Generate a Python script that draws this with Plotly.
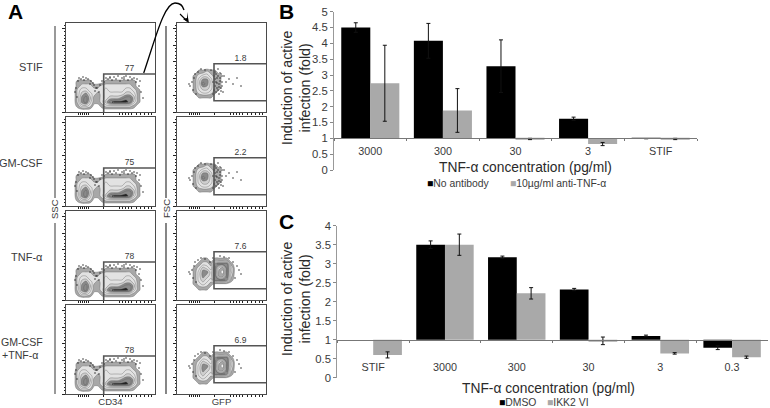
import plotly.graph_objects as go

W, H = 770, 408
FONT = "Liberation Sans"
BAR_DARK = "#000000"
BAR_LIGHT = "#a9a9a9"
TXT = "#3a3a3a"

# ---------- Panel B data ----------
b_cats = ["3000", "300", "30", "3", "STIF"]
b_no_ab = [4.5, 4.08, 3.28, 1.62, 0.99]
b_no_ab_err = [0.15, 0.55, 0.83, 0.05, 0.0]
b_anti = [2.74, 1.88, 0.98, 0.82, 0.98]
b_anti_err = [1.2, 0.69, 0.02, 0.05, 0.02]

# ---------- Panel C data ----------
c_cats = ["STIF", "3000", "300", "30", "3", "0.3"]
c_dmso = [None, 3.5, 3.17, 2.32, 1.1, 0.79]
c_dmso_err = [None, 0.1, 0.03, 0.03, 0.02, 0.05]
c_ikk = [0.6, 3.5, 2.22, 0.97, 0.64, 0.54]
c_ikk_err = [0.08, 0.28, 0.15, 0.1, 0.02, 0.03]

# ---------- Panel A data ----------
row_names = ["STIF", "GM-CSF", "TNF-α", "GM-CSF +TNF-α"]
left_pct = ["77", "75", "78", "78"]
right_pct = ["1.8", "2.2", "7.6", "6.9"]
row_tops = [23, 117, 211, 305]

left_x = [8, 12, 16, 20, 24, 28, 32, 36, 40, 44, 48, 52, 56, 60, 64, 68, 72, 76]
left_y = [2, 6, 10, 14, 18, 22, 26, 30, 34]
left_z = [
    [0, 0, 0, 0, 0, 0, 0, 0, 0, 0, 0, 0, 0, 0, 0, 0, 0, 0],
    [0, 1, 3, 3, 2, 0, 0, 1, 2, 2, 2, 2, 2, 2, 2, 1, 0, 0],
    [0, 2, 5, 6, 3, 1, 1, 2, 4, 6, 7, 7, 7, 7, 6, 3, 1, 0],
    [0, 2, 5, 6, 4, 1, 1, 2, 3, 4, 4, 4, 5, 6, 6, 4, 1, 0],
    [0, 2, 4, 5, 3, 2, 1, 2, 3, 3, 3, 3, 3, 4, 4, 3, 1, 0],
    [0, 2, 3, 3, 2, 2, 2, 2, 3, 2, 2, 2, 2, 3, 3, 2, 1, 0],
    [0, 1, 2, 2, 2, 1, 1, 2, 2, 2, 2, 2, 2, 2, 2, 1, 0, 0],
    [0, 1, 1, 1, 1, 0, 0, 0, 1, 1, 1, 1, 1, 1, 1, 1, 0, 0],
    [0, 0, 0, 0, 0, 0, 0, 0, 0, 0, 0, 0, 0, 0, 0, 0, 0, 0],
]
left_dots_x = [12, 15, 18, 22, 25, 28, 31, 34, 38, 42, 46, 50, 54, 58, 62, 66, 70, 73, 75, 10, 11, 29, 33, 40, 48, 56, 64, 71, 77, 24,
               13, 17, 20, 27, 36, 44, 52, 60, 68, 74, 9, 30, 44, 58]
left_dots_y = [31, 33, 32, 33, 31, 27, 24, 27, 30, 33, 32, 33, 31, 33, 32, 33, 30, 26, 20, 24, 15, 21, 20, 34, 35, 34, 35, 33, 14, 28,
               34, 35, 34, 29, 31, 35, 36, 36, 34, 31, 20, 24, 34, 35]

right_ax = [14, 18, 22, 26, 30, 34, 38, 42, 46, 50]
right_ay = [12, 16, 20, 24, 28, 32, 36, 40, 44]
right_az = [
    [0, 0, 0, 0, 0, 0, 0, 0, 0, 0],
    [0, 0, 1, 1, 1, 1, 0, 0, 0, 0],
    [0, 1, 2, 3, 3, 2, 1, 0, 0, 0],
    [0, 1, 3, 4, 4, 3, 1, 1, 0, 0],
    [0, 1, 3, 6, 5, 3, 1, 1, 0, 0],
    [0, 1, 3, 5, 5, 3, 1, 1, 0, 0],
    [0, 1, 2, 3, 3, 2, 1, 1, 0, 0],
    [0, 0, 1, 1, 2, 1, 1, 0, 0, 0],
    [0, 0, 0, 0, 0, 0, 0, 0, 0, 0],
]
right_bx = [14, 18, 22, 26, 30, 34, 38, 42, 46, 50, 54, 58]
right_by = [8, 12, 16, 20, 24, 28, 32, 36, 40, 44]
right_bz = [
    [0, 0, 0, 0, 0, 0, 0, 0, 0, 0, 0, 0],
    [0, 0, 1, 1, 1, 0, 0, 0, 0, 0, 0, 0],
    [0, 1, 2, 3, 2, 1, 0, 0, 0, 0, 0, 0],
    [0, 1, 3, 4, 3, 2, 6, 6, 6, 5, 1, 0],
    [0, 1, 3, 5, 4, 3, 6, 1, 1, 6, 2, 0],
    [0, 1, 3, 5, 5, 3, 6, 1, 0, 6, 3, 0],
    [0, 1, 2, 4, 3, 2, 6, 2, 1, 6, 3, 0],
    [0, 0, 1, 2, 2, 1, 5, 6, 6, 6, 1, 0],
    [0, 0, 0, 1, 1, 0, 1, 1, 1, 1, 0, 0],
    [0, 0, 0, 0, 0, 0, 0, 0, 0, 0, 0, 0],
]
right_a_dots_x = [13, 15, 16, 17, 19, 21, 24, 28, 34, 38, 41, 44, 47, 49, 52, 56, 60, 64, 12, 18, 36, 37, 38, 39, 40, 41, 42, 43, 44, 45, 46,
                  37, 39, 41, 43, 45, 38, 40, 42, 44, 36, 39, 42, 45, 40, 43]
right_a_dots_y = [26, 30, 22, 34, 18, 40, 43, 42, 42, 40, 43, 38, 36, 30, 33, 28, 34, 26, 28, 38, 18, 22, 26, 30, 34, 22, 28, 34, 24, 30, 20,
                  36, 38, 36, 31, 26, 33, 29, 25, 21, 30, 20, 18, 36, 24, 39]
right_b_dots_x = [13, 15, 16, 17, 19, 21, 24, 28, 33, 47, 52, 56, 60, 64, 12, 18, 36, 43, 58, 62]
right_b_dots_y = [26, 30, 22, 34, 18, 40, 42, 41, 38, 43, 42, 38, 34, 26, 28, 38, 42, 44, 22, 30]

left_gate_x = [89, 37.7, 37.7]
left_gate_y = [38, 38, 0]
right_gate_x = [89, 37, 37, 89]
right_gate_y = [48.3, 48.3, 11.2, 11.2]


def px(x):
    return x / W


def py(y):
    return 1 - y / H


fig = go.Figure()
layout = dict(
    width=W, height=H, margin=dict(l=0, r=0, t=0, b=0, pad=0, autoexpand=False),
    paper_bgcolor="white", plot_bgcolor="white", showlegend=False,
    font=dict(family=FONT, size=11, color=TXT),
    barmode="group", bargap=0.2, bargroupgap=0,
)

FLOW_BOTTOM_TICKS = [12, 14, 16, 18, 20, 22, 37, 53, 56, 59, 62, 65, 70, 74, 78, 82, 85]
bands = [
    [0.0, "#ffffff"], [0.14, "#ffffff"], [0.14, "#a8a8a8"], [0.28, "#a8a8a8"],
    [0.28, "#e2e2e2"], [0.43, "#e2e2e2"], [0.43, "#eeeeee"], [0.57, "#eeeeee"],
    [0.57, "#cfcfcf"], [0.71, "#cfcfcf"], [0.71, "#8a8a8a"], [0.86, "#8a8a8a"],
    [0.86, "#222222"], [1.0, "#222222"],
]


def flow_panel(n, x0, top, grid, dots, gate, label, lab_y, xtitle=None):
    xname, yname = f"xaxis{n}", f"yaxis{n}"
    xa, ya = f"x{n}", f"y{n}"
    layout[xname] = dict(
        domain=[px(x0), px(x0 + 89)], range=[0, 89], anchor=ya, fixedrange=True,
        showgrid=False, zeroline=False, showline=True, linecolor="#4a4a4a", linewidth=1.2,
        mirror=True, ticks="outside", ticklen=1.5, tickcolor="#222", tickwidth=0.8,
        tickvals=FLOW_BOTTOM_TICKS, showticklabels=False,
    )
    if xtitle:
        layout[xname]["title"] = dict(text=xtitle, font=dict(size=9.5, color=TXT), standoff=2)
    layout[yname] = dict(
        domain=[py(top + 89), py(top)], range=[0, 89], anchor=xa, fixedrange=True,
        showgrid=False, zeroline=False, showline=True, linecolor="#4a4a4a", linewidth=1.2,
        mirror=True, ticks="outside", ticklen=2.5, tickcolor="#222", tickwidth=0.8,
        tick0=0, dtick=16.7, showticklabels=False,
        minor=dict(ticks="outside", ticklen=1, dtick=3.34, tick0=0, tickcolor="#222", tickwidth=0.6),
    )
    fig.add_trace(go.Contour(
        x=grid[0], y=grid[1], z=grid[2], xaxis=xa, yaxis=ya, showscale=False,
        zmin=0, zmax=7, colorscale=bands, autocontour=False,
        contours=dict(start=0.5, end=6.5, size=1, coloring="fill", showlines=True),
        line=dict(color="#555", width=0.35, smoothing=1.0), hoverinfo="skip", showlegend=False,
    ))
    fig.add_trace(go.Scatter(
        x=dots[0], y=dots[1], xaxis=xa, yaxis=ya, mode="markers",
        marker=dict(size=1.5, color="#222"), hoverinfo="skip", showlegend=False,
    ))
    fig.add_trace(go.Scatter(
        x=gate[0], y=gate[1], xaxis=xa, yaxis=ya, mode="lines",
        line=dict(color="#555", width=1.6), hoverinfo="skip", showlegend=False,
    ))
    fig.add_trace(go.Scatter(
        x=[63.5], y=[lab_y], xaxis=xa, yaxis=ya, mode="text", text=[label],
        textfont=dict(size=8.5, color=TXT), hoverinfo="skip", showlegend=False,
    ))


left_grid = (left_x, left_y, left_z)
left_dots = (left_dots_x, left_dots_y)
ra_grid = (right_ax, right_ay, right_az)
rb_grid = (right_bx, right_by, right_bz)
ra_dots = (right_a_dots_x, right_a_dots_y)
rb_dots = (right_b_dots_x, right_b_dots_y)
for i, top in enumerate(row_tops):
    flow_panel(i * 2 + 3, 66, top, left_grid, left_dots, (left_gate_x, left_gate_y),
               left_pct[i], 43.5, "CD34" if i == 3 else None)
    flow_panel(i * 2 + 4, 177, top, ra_grid if i < 2 else rb_grid, ra_dots if i < 2 else rb_dots,
               (right_gate_x, right_gate_y), right_pct[i], 53.5, "GFP" if i == 3 else None)


def bar_axes(x_id, y_id, xl, xr, yt, yb, ymax, dtick, cats, lab_stand):
    one = py(yb - (yb - yt) / ymax)
    layout[x_id] = dict(
        domain=[px(xl), px(xr)], anchor="free", position=one, fixedrange=True,
        type="category", categoryorder="array", categoryarray=cats, tickson="boundaries",
        showgrid=False, zeroline=False, showline=True, linecolor="#777", linewidth=1,
        ticks="outside", ticklen=2, tickcolor="#777", tickfont=dict(size=10.8, color=TXT),
        ticklabelstandoff=lab_stand,
    )
    layout[y_id] = dict(
        domain=[py(yb), py(yt)], range=[0, ymax], anchor=x_id.replace("axis", ""), fixedrange=True,
        showgrid=False, zeroline=False, showline=True, linecolor="#999", linewidth=1,
        ticks="outside", ticklen=3, tickcolor="#888", dtick=dtick, tickfont=dict(size=11.3, color=TXT),
    )


def bars(cats, vals, errs, color, name, xa, ya):
    fig.add_trace(go.Bar(
        x=cats, y=[None if v is None else v - 1 for v in vals], base=1, name=name,
        xaxis=xa, yaxis=ya,
        marker=dict(color=color, line=dict(width=0)),
        error_y=dict(type="data", array=errs, color="#111", thickness=1, width=2),
        hoverinfo="skip",
    ))


bar_axes("xaxis", "yaxis", 334, 697, 11.7, 170, 5, 0.5, b_cats, 3)
bar_axes("xaxis2", "yaxis2", 337.3, 768, 225.7, 377.7, 4, 0.5, c_cats, 17)
bars(b_cats, b_no_ab, b_no_ab_err, BAR_DARK, "No antibody", "x", "y")
bars(b_cats, b_anti, b_anti_err, BAR_LIGHT, "10µg/ml anti-TNF-α", "x", "y")
bars(c_cats, c_dmso, c_dmso_err, BAR_DARK, "DMSO", "x2", "y2")
bars(c_cats, c_ikk, c_ikk_err, BAR_LIGHT, "IKK2 VI", "x2", "y2")

ann = []


def text(x, y, s, size=11, color=TXT, anchor="center", angle=0, bold=False):
    ann.append(dict(x=px(x), y=py(y), xref="paper", yref="paper", text=f"<b>{s}</b>" if bold else s,
                    showarrow=False, xanchor=anchor, yanchor="middle", textangle=angle,
                    font=dict(size=size, color=color)))


def key(x, y, color, label):
    text(x, y, f'<span style="color:{color}">■</span>{label}', 10.4, TXT, "left")


key(425, 184, BAR_DARK, "No antibody")
key(508, 184, BAR_LIGHT, "10µg/ml anti-TNF-α")
key(497, 402, BAR_DARK, "DMSO")
key(545, 402, BAR_LIGHT, "IKK2 VI")

text(6, 11, "A", 21, "#000", "left", bold=True)
text(277, 11, "B", 21, "#000", "left", bold=True)
text(277, 222, "C", 21, "#000", "left", bold=True)
text(296, 88, "Induction of active<br>infection (fold)", 14.2, "#2a2a2a", angle=-90)
text(296, 299, "Induction of active<br>infection (fold)", 14.2, "#2a2a2a", angle=-90)
text(525, 167, "TNF-α concentration (pg/ml)", 13.8, "#2a2a2a")
text(548, 388, "TNF-α concentration (pg/ml)", 13.8, "#2a2a2a")
text(45, 67, row_names[0], 11, TXT, "right")
text(45, 163, row_names[1], 11, TXT, "right")
text(45, 257, row_names[2], 11, TXT, "right")
text(45, 342, "GM-CSF", 10.6, TXT, "right")
text(40, 355, "+TNF-α", 10.6, TXT, "right")
text(55, 209, "SSC", 9.5, TXT, angle=-90)
text(167, 209, "FSC", 9.5, TXT, angle=-90)
layout["annotations"] = ann


def pline(x0, y0, x1, y1, color, width):
    return dict(type="line", xref="paper", yref="paper", x0=px(x0), y0=py(y0), x1=px(x1), y1=py(y1),
                line=dict(color=color, width=width))


def ppath(points):
    d = ""
    for cmd, *xy in points:
        d += cmd
        d += " ".join(f"{px(xy[k]):.5f},{py(xy[k + 1]):.5f}" for k in range(0, len(xy), 2)) + " "
    return d.strip()


layout["shapes"] = [
    pline(55, 26, 55, 198, "#777", 1.5),
    pline(55, 223, 55, 394, "#777", 1.5),
    pline(166, 26, 166, 198, "#222", 1.1),
    pline(166, 223, 166, 394, "#222", 1.1),
    dict(type="path", xref="paper", yref="paper", line=dict(color="#000", width=1.3),
         path=ppath([("M", 143.7, 73), ("C", 155, 40, 164, 3, 175, 3), ("C", 180, 3, 183, 6, 184, 10)])),
    dict(type="path", xref="paper", yref="paper", line=dict(color="#000", width=1.1),
         path=ppath([("M", 180, 14), ("L", 187, 21)])),
    dict(type="path", xref="paper", yref="paper", fillcolor="#000", line=dict(width=0),
         path=ppath([("M", 189, 23), ("L", 183, 19), ("L", 187, 18), ("L", 187, 12), ("Z",)])),
]

fig.update_layout(**layout)
fig.write_html("out.html", config=dict(displayModeBar=False),
               post_script="document.body.style.margin='0';")
